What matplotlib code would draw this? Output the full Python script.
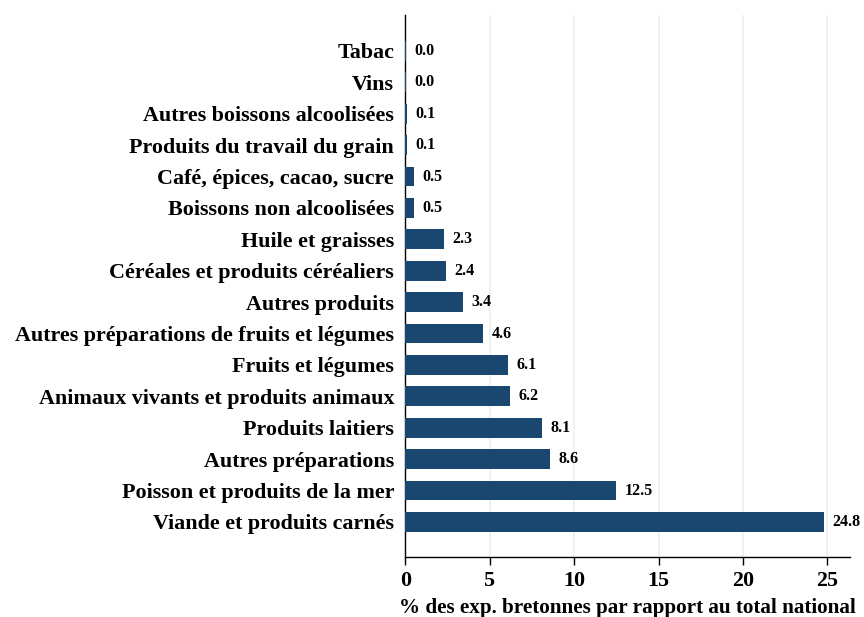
import matplotlib.pyplot as plt

categories = ['Tabac', 'Vins', 'Autres boissons alcoolisées', 'Produits du travail du grain',
              'Café, épices, cacao, sucre', 'Boissons non alcoolisées', 'Huile et graisses',
              'Céréales et produits céréaliers', 'Autres produits',
              'Autres préparations de fruits et légumes', 'Fruits et légumes',
              'Animaux vivants et produits animaux', 'Produits laitiers',
              'Autres préparations', 'Poisson et produits de la mer',
              'Viande et produits carnés']
values = [0.02, 0.03, 0.1, 0.1, 0.5, 0.5, 2.3, 2.4, 3.4, 4.6, 6.1, 6.2, 8.1, 8.6, 12.5, 24.8]
labels = ['0.0', '0.0', '0.1', '0.1', '0.5', '0.5', '2.3', '2.4', '3.4', '4.6', '6.1', '6.2',
          '8.1', '8.6', '12.5', '24.8']
xticks = [0, 5, 10, 15, 20, 25]

plt.rcParams['font.family'] = ['Liberation Serif', 'DejaVu Serif']
plt.rcParams['font.weight'] = 'bold'

fig = plt.figure(figsize=(8.64, 6.17), dpi=100)
ax = fig.add_axes([0.469, 0.097, 0.515, 0.879])

ypos = list(range(len(categories)))
ax.barh(ypos, values, height=0.63, color='#1a476f', zorder=3)
for y, v, lab in zip(ypos, values, labels):
    ax.text(v + 0.5, y, lab, va='center', ha='left', fontsize=11.5, fontweight='bold', zorder=4)

ax.set_yticks(ypos)
ax.set_yticklabels(categories, fontsize=15.8, fontweight='bold')
ax.set_ylim(len(categories) - 1 + 1.12, -1.15)
ax.set_xlim(0, 26.35)
ax.set_xticks(xticks)
ax.set_xticklabels([str(t) for t in xticks], fontsize=15.8, fontweight='bold')
ax.set_xlabel('% des exp. bretonnes par rapport au total national', fontsize=15.2,
              fontweight='bold', labelpad=5)

ax.grid(axis='x', color='#eaf0f4', linewidth=1.2, zorder=0)
ax.tick_params(axis='y', length=0, pad=8)
ax.tick_params(axis='x', length=6, width=1, pad=4)
ax.spines['top'].set_visible(False)
ax.spines['right'].set_visible(False)
ax.spines['left'].set_linewidth(1)
ax.spines['bottom'].set_linewidth(1)

fig.savefig('out.png', dpi=100)
